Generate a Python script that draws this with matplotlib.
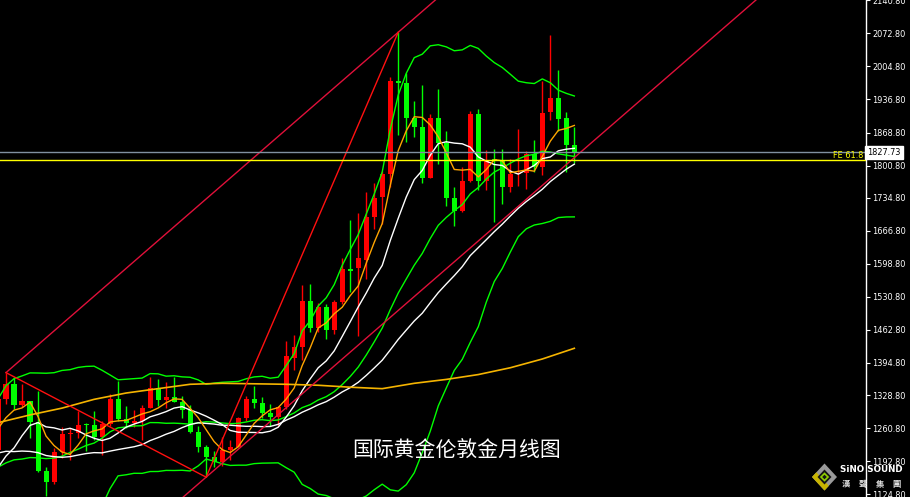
import numpy as np
import pandas as pd
import matplotlib
matplotlib.use('Agg')
import matplotlib.pyplot as plt
from matplotlib.patches import Polygon

# ---------------- data (monthly XAU/USD, Jun 2016 .. Jun 2022) ----------------
months = pd.period_range('2016-06', '2022-06', freq='M').astype(str).tolist()

opens = [1215, 1321, 1351, 1309, 1316, 1274, 1173, 1151, 1211, 1249, 1250, 1268, 1268, 1242,
         1269, 1321, 1280, 1271, 1275, 1303, 1344, 1318, 1325, 1315, 1298, 1252, 1223, 1201,
         1192, 1215, 1222, 1282, 1321, 1313, 1292, 1284, 1305, 1405, 1427, 1522, 1466, 1510,
         1462, 1520, 1589, 1590, 1607, 1695, 1737, 1783, 1975, 1970, 1898, 1880, 1776, 1898,
         1848, 1734, 1708, 1769, 1906, 1770, 1815, 1810, 1757, 1783, 1785, 1824, 1797, 1910,
         1940, 1898, 1844]
highs = [1362, 1375, 1367, 1352, 1317, 1337, 1180, 1220, 1264, 1261, 1296, 1271, 1296, 1275,
         1331, 1357, 1306, 1299, 1309, 1366, 1362, 1356, 1366, 1326, 1309, 1265, 1226, 1214,
         1243, 1237, 1284, 1326, 1347, 1324, 1310, 1306, 1439, 1453, 1555, 1557, 1518, 1516,
         1525, 1611, 1689, 1704, 1747, 1765, 1789, 1983, 2075, 1992, 1933, 1966, 1906, 1959,
         1872, 1756, 1798, 1913, 1917, 1833, 1834, 1834, 1814, 1877, 1830, 1853, 1974, 2070,
         1998, 1910, 1880]
lows = [1208, 1311, 1301, 1304, 1241, 1171, 1122, 1146, 1200, 1195, 1240, 1214, 1236, 1205,
        1266, 1275, 1261, 1264, 1236, 1302, 1307, 1303, 1314, 1282, 1250, 1211, 1160, 1180,
        1183, 1196, 1221, 1276, 1303, 1281, 1266, 1266, 1301, 1381, 1400, 1459, 1459, 1445,
        1454, 1517, 1540, 1451, 1567, 1670, 1680, 1757, 1863, 1850, 1860, 1765, 1775, 1803,
        1717, 1677, 1705, 1766, 1750, 1751, 1684, 1721, 1746, 1759, 1753, 1788, 1782, 1895,
        1872, 1787, 1806]
closes = [1321, 1351, 1309, 1316, 1274, 1173, 1151, 1211, 1249, 1250, 1268, 1267, 1242, 1269,
          1321, 1280, 1271, 1275, 1303, 1344, 1318, 1325, 1315, 1298, 1252, 1223, 1201, 1192,
          1215, 1222, 1282, 1321, 1313, 1292, 1284, 1305, 1409, 1427, 1522, 1466, 1510, 1462,
          1520, 1589, 1585, 1610, 1695, 1735, 1783, 1975, 1970, 1898, 1880, 1776, 1898, 1848,
          1734, 1708, 1769, 1906, 1770, 1810, 1810, 1757, 1783, 1785, 1824, 1797, 1909, 1940,
          1896, 1844, 1827.73]

# closes before the visible window (Jan 2014 .. May 2016), only used to warm up averages
warmup_closes = [1244, 1326, 1284, 1296, 1250, 1327, 1282, 1287, 1210, 1171, 1175, 1184,
                 1283, 1213, 1183, 1184, 1190, 1172, 1095, 1134, 1115, 1142, 1065, 1061,
                 1116, 1238, 1232, 1293, 1215]

# long moving average (gold line) at candle indices
long_ma_idx = [0, 4, 8, 12, 16, 20, 24, 28, 32, 36, 40, 44, 48, 52, 56, 60, 64, 68, 72]
long_ma_val = [1272, 1288, 1302, 1320, 1333, 1342, 1351, 1353, 1352, 1351, 1349, 1345, 1342,
               1353, 1361, 1371, 1385, 1403, 1425]

bid_price = 1827.73
fe618_price = 1811.6

tick_values = [2140.8, 2072.8, 2004.8, 1936.8, 1868.8, 1800.8, 1734.8, 1666.8, 1598.8,
               1530.8, 1462.8, 1394.8, 1328.8, 1260.8, 1192.8, 1124.8]
tick_labels = ['2140.80', '2072.80', '2004.80', '1936.80', '1868.80', '1800.80', '1734.80',
               '1666.80', '1598.80', '1530.80', '1462.80', '1394.80', '1328.80', '1260.80',
               '1192.80', '1124.80']

title_text = '国际黄金伦敦金月线图'

# ---------------- indicators ----------------
n_warm = len(warmup_closes)
allc = pd.Series(warmup_closes + closes, dtype=float)
ma5 = allc.rolling(5).mean().values[n_warm:]
ma10 = allc.rolling(10).mean().values[n_warm:]
ma30 = allc.rolling(30, min_periods=1).mean().values[n_warm:]
bb_mid = allc.rolling(20).mean()
bb_std = allc.rolling(20).std(ddof=0)
bb_up = (bb_mid + 2 * bb_std).values[n_warm:]
bb_lo = (bb_mid - 2 * bb_std).values[n_warm:]
bb_mid = bb_mid.values[n_warm:]

# ---------------- figure ----------------
W, H = 910, 497
fig = plt.figure(figsize=(W / 100, H / 100), dpi=100, facecolor='black')
ax = fig.add_axes([0, 0, 865.5 / W, 1])
ax.set_facecolor('black')

idx = np.arange(len(closes))
o = np.array(opens, float); c = np.array(closes, float)
h = np.array(highs, float); l = np.array(lows, float)
up = c >= o
cols = np.where(up, '#ff0000', '#00ff00')

ax.vlines(idx, l, h, colors=cols, lw=1.0, zorder=3)
body_h = np.abs(c - o)
mid = (c + o) / 2
bh = np.maximum(body_h, 2.2)
ax.bar(idx, bh, width=0.63, bottom=mid - bh / 2, color=cols, lw=0, zorder=4)

lw = 1.0
ax.plot(idx, bb_up, color='#00ff00', lw=lw, zorder=5)
ax.plot(idx, bb_mid, color='#00ff00', lw=lw, zorder=5)
ax.plot(idx, bb_lo, color='#00ff00', lw=lw, zorder=5)
ax.plot(idx, ma30, color='white', lw=lw, zorder=5)
ax.plot(idx, ma10, color='white', lw=lw, zorder=5)
ax.plot(idx, ma5, color='#ffa500', lw=lw, zorder=5)
ax.plot(long_ma_idx, long_ma_val, color='#f5b400', lw=1.2, zorder=5)

# trend lines / channel
iA, pA = 1, highs[1]
iB, pB = 26, lows[26]
iC, pC = 50, highs[50]
slope = (pC - pA) / (iC - iA)
ext = 140
ax.plot([iA, ext], [pA, pA + slope * (ext - iA)], color='#e0103a', lw=lw, zorder=6)
ax.plot([iA, ext], [pB + slope * (iA - iB), pB + slope * (ext - iB)], color='#e0103a', lw=lw, zorder=6)
ax.plot([iB, iC], [pB, pC], color='#ff1010', lw=lw, zorder=6)
ax.plot([iA, iB], [pA, pB], color='#ff1010', lw=lw, zorder=6)

# horizontal lines
ax.axhline(bid_price, color='#8090a0', lw=lw, zorder=6)
ax.axhline(fe618_price, color='#ffff00', lw=lw, zorder=6)

ax.set_xlim(0.25, 108.375)
ax.set_ylim(1119.2, 2141.3)

for s in ['left', 'top', 'bottom']:
    ax.spines[s].set_visible(False)
ax.spines['right'].set_color('white')
ax.spines['right'].set_linewidth(1.0)
ax.set_xticks([])
ax.yaxis.tick_right()
ax.set_yticks(tick_values)
ax.set_yticklabels(tick_labels)
ax.tick_params(axis='y', direction='out', length=3, width=0.8, colors='white',
               labelsize=5.9, pad=2)

# price label box
from matplotlib.transforms import blended_transform_factory
tr = blended_transform_factory(ax.transAxes, ax.transData)
ax.text(1.0 + 2 / 865.5, bid_price, '%.2f' % bid_price, transform=tr, ha='left', va='center',
        fontsize=5.9, color='black', zorder=10, clip_on=False,
        bbox=dict(boxstyle='square,pad=0.25', fc='white', ec='white'))
ax.text(863 / 865.5, fe618_price + 1.5, 'FE 61.8', transform=tr, ha='right', va='bottom',
        fontsize=5.9, color='#ffff00', zorder=10)

# title
fig.text(457 / W, 1 - 451 / H, title_text, color='white', fontsize=15,
         family=['Noto Sans CJK SC', 'DejaVu Sans'], ha='center', va='center')

# logo
def P(x, y):
    return (x / W, 1 - y / H)

cx, cy, rx, ry = 824.5, 477, 12.5, 13.5
outer = [P(cx, cy - ry), P(cx + rx, cy), P(cx, cy + ry), P(cx - rx, cy)]
fig.patches.append(Polygon(outer, closed=True, transform=fig.transFigure, fc='#9a9a9a', ec='none'))
lower_left = [P(cx - rx, cy), P(cx, cy + ry), P(cx + rx * 0.35, cy + ry * 0.65), P(cx - rx * 0.65, cy - ry * 0.35)]
fig.patches.append(Polygon(lower_left, closed=True, transform=fig.transFigure, fc='#c8b400', ec='none'))
inner = [P(cx, cy - 7.5), P(cx + 7, cy), P(cx, cy + 7.5), P(cx - 7, cy)]
fig.patches.append(Polygon(inner, closed=True, transform=fig.transFigure, fc='#151515', ec='none'))
core = [P(cx, cy - 3.5), P(cx + 3.5, cy), P(cx, cy + 3.5), P(cx - 3.5, cy)]
fig.patches.append(Polygon(core, closed=True, transform=fig.transFigure, fc='none', ec='#8fd000', lw=1.2))

fig.text(871 / W, 1 - 470 / H, 'SiNO SOUND', color='white', fontsize=6.3, fontweight='bold',
         family='DejaVu Sans', ha='center', va='center', zorder=20)
for ch, xx in zip('漢聲集團', [846, 863, 880, 897]):
    fig.text(xx / W, 1 - 484 / H, ch, color='#e0e0e0', fontsize=6, fontweight='bold',
             family=['Noto Sans CJK TC', 'DejaVu Sans'], ha='center', va='center', zorder=20)

fig.savefig('out.png', dpi=100, facecolor='black')
